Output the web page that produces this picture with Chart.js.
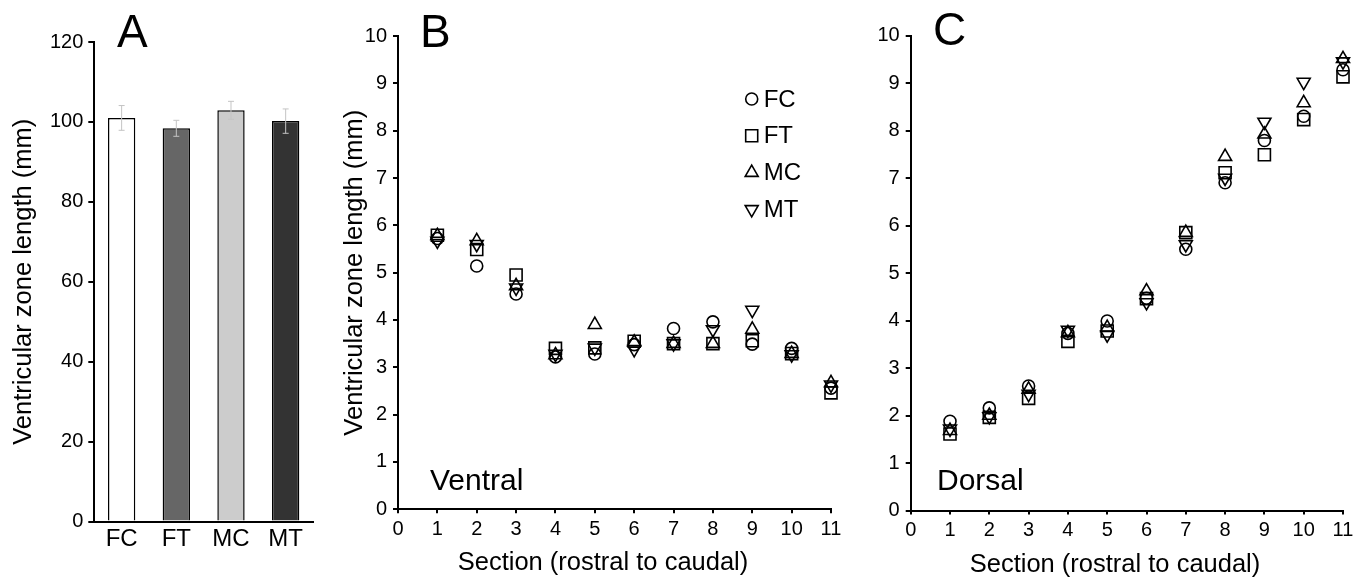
<!DOCTYPE html>
<html>
<head>
<meta charset="utf-8">
<title>Ventricular zone length</title>
<script src="https://cdn.jsdelivr.net/npm/chart.js@4.4.1/dist/chart.umd.min.js"></script>
<style>
    body { margin: 0; background: #fff; width: 1366px; height: 584px; overflow: hidden; position: relative; }
    canvas { position: absolute; top: 0; }
</style>
</head>
<body>
<canvas id="chartA" width="335" height="584" style="left:0px"></canvas>
<canvas id="chartB" width="515" height="584" style="left:335px"></canvas>
<canvas id="chartC" width="516" height="584" style="left:850px"></canvas>
<script>
    // Panel A: total length per group
    const groups = ['FC', 'FT', 'MC', 'MT'];
    const totalLength = [101.0, 98.4, 102.9, 100.2];
    const totalError = [3.1, 2.0, 2.25, 3.05];
    const barColors = ['#ffffff', '#666666', '#cccccc', '#333333'];
    const lengthTicksA = [0, 20, 40, 60, 80, 100, 120];

    // Panels B and C: per section
    const sections = [1, 2, 3, 4, 5, 6, 7, 8, 9, 10, 11];
    const sectionTicks = [0, 1, 2, 3, 4, 5, 6, 7, 8, 9, 10, 11];
    const lengthTicks = [0, 1, 2, 3, 4, 5, 6, 7, 8, 9, 10];

    const ventralFC = [5.72, 5.14, 4.55, 3.22, 3.28, 3.48, 3.82, 3.96, 3.49, 3.40, 2.56];
    const ventralFT = [5.79, 5.49, 4.95, 3.40, 3.41, 3.55, 3.50, 3.50, 3.56, 3.29, 2.46];
    const ventralMC = [5.78, 5.67, 4.72, 3.26, 3.90, 3.53, 3.50, 3.50, 3.80, 3.29, 2.67];
    const ventralMT = [5.67, 5.60, 4.68, 3.28, 3.41, 3.38, 3.50, 3.80, 4.21, 3.27, 2.63];

    const dorsalFC = [1.88, 2.16, 2.62, 3.73, 3.99, 4.47, 5.50, 6.90, 7.79, 8.30, 9.28];
    const dorsalFT = [1.61, 1.96, 2.36, 3.56, 3.78, 4.46, 5.85, 7.11, 7.49, 8.23, 9.13];
    const dorsalMC = [1.68, 2.00, 2.55, 3.74, 3.85, 4.62, 5.85, 7.45, 7.92, 8.58, 9.51];
    const dorsalMT = [1.72, 1.98, 2.45, 3.80, 3.70, 4.38, 5.60, 7.00, 8.18, 9.02, 9.45];

    const FONT = '"Liberation Sans", Arial, sans-serif';
    Chart.defaults.font.family = FONT;
    Chart.defaults.color = '#000';

    // fixed text (panel letters, region labels, x titles)
    function textPlugin(id, items) {
        return {
            id: id,
            afterDraw(chart) {
                const ctx = chart.ctx;
                ctx.save();
                ctx.fillStyle = '#000';
                items.forEach(t => {
                    ctx.textBaseline = t.baseline || 'alphabetic';
                    ctx.textAlign = t.align || 'left';
                    ctx.font = t.size + 'px ' + FONT;
                    ctx.fillText(t.text, t.x, t.y);
                });
                ctx.restore();
            }
        };
    }

    // error bars for panel A
    const errorBars = {
        id: 'errorBars',
        afterDatasetsDraw(chart) {
            const ctx = chart.ctx;
            const y = chart.scales.y;
            const meta = chart.getDatasetMeta(0);
            ctx.save();
            ctx.strokeStyle = '#c4c4c4';
            ctx.lineWidth = 1;
            meta.data.forEach((bar, i) => {
                const v = totalLength[i], e = totalError[i];
                const yt = y.getPixelForValue(v + e), yb = y.getPixelForValue(v - e);
                ctx.beginPath();
                ctx.moveTo(bar.x, yt); ctx.lineTo(bar.x, yb);
                ctx.moveTo(bar.x - 3, yt); ctx.lineTo(bar.x + 3, yt);
                ctx.moveTo(bar.x - 3, yb); ctx.lineTo(bar.x + 3, yb);
                ctx.stroke();
            });
            ctx.restore();
        }
    };

    // legend inside panel B
    function innerLegend(x, y, gap) {
        return {
            id: 'innerLegend',
            afterDatasetsDraw(chart) {
                const ctx = chart.ctx;
                ctx.save();
                chart.data.datasets.forEach((ds, i) => {
                    const yy = y + i * gap;
                    ctx.strokeStyle = '#000';
                    ctx.fillStyle = 'rgba(0,0,0,0)';
                    ctx.lineWidth = 1.6;
                    Chart.helpers.drawPoint(ctx, {
                        pointStyle: ds.pointStyle,
                        radius: ds.pointRadius,
                        rotation: ds.pointRotation || 0,
                        borderWidth: 1.6
                    }, x, yy);
                    ctx.fillStyle = '#000';
                    ctx.font = '24px ' + FONT;
                    ctx.textBaseline = 'middle';
                    ctx.fillText(ds.label, x + 12, yy + 1);
                });
                ctx.restore();
            }
        };
    }

    function axisStyle(extra) {
        return Object.assign({
            grid: { display: true, drawOnChartArea: false, color: '#000', lineWidth: 2, tickLength: 5 },
            border: { display: true, color: '#000', width: 2 }
        }, extra);
    }

    new Chart(document.getElementById('chartA'), {
        type: 'bar',
        data: {
            labels: groups,
            datasets: [{
                data: totalLength,
                backgroundColor: barColors,
                borderColor: '#000',
                borderWidth: 1.5,
                barPercentage: 0.5,
                categoryPercentage: 1
            }]
        },
        options: {
            responsive: false,
            animation: false,
            devicePixelRatio: 1,
            layout: { padding: { top: 42, right: 22, bottom: 0, left: 0 } },
            plugins: { legend: { display: false }, tooltip: { enabled: false } },
            scales: {
                x: axisStyle({
                    grid: { display: true, drawOnChartArea: false, drawTicks: false, color: '#000', lineWidth: 2 },
                    ticks: { font: { size: 24 }, padding: 3 },
                    afterFit: s => { s.height = 62.5; }
                }),
                y: axisStyle({
                    min: 0, max: 120,
                    afterBuildTicks: s => { s.ticks = lengthTicksA.map(v => ({ value: v })); },
                    grid: { display: true, drawOnChartArea: false, color: '#000', lineWidth: 2, tickLength: 6 },
                    ticks: { font: { size: 20 }, padding: 5 },
                    title: { display: true, text: 'Ventricular zone length (mm)', font: { size: 25.5 }, padding: { top: 9, bottom: 0 } },
                    afterFit: s => { s.width = 94.3; }
                })
            }
        },
        plugins: [errorBars, textPlugin('letterA', [{ text: 'A', size: 46, x: 117, y: 47 }])]
    });

    function scatterSets(fc, ft, mc, mt) {
        const pts = arr => sections.map((s, i) => ({ x: s, y: arr[i] }));
        const base = { backgroundColor: 'rgba(0,0,0,0)', borderColor: '#000', pointBorderWidth: 1.6, clip: false };
        return [
            Object.assign({ label: 'FC', data: pts(fc), pointStyle: 'circle', pointRadius: 6 }, base),
            Object.assign({ label: 'FT', data: pts(ft), pointStyle: 'rect', pointRadius: 8.5 }, base),
            Object.assign({ label: 'MC', data: pts(mc), pointStyle: 'triangle', pointRadius: 7.5 }, base),
            Object.assign({ label: 'MT', data: pts(mt), pointStyle: 'triangle', pointRadius: 7.5, pointRotation: 180 }, base)
        ];
    }

    function scatterOptions(yWidth, top, right, xHeight, yTitle) {
        return {
            responsive: false,
            animation: false,
            devicePixelRatio: 1,
            layout: { padding: { top: top, right: right, bottom: 0, left: 0 } },
            plugins: { legend: { display: false }, tooltip: { enabled: false } },
            scales: {
                x: axisStyle({
                    type: 'linear', min: 0, max: 11,
                    afterBuildTicks: s => { s.ticks = sectionTicks.map(v => ({ value: v })); },
                    grid: { display: true, drawOnChartArea: false, color: '#000', lineWidth: 2, tickLength: 4 },
                    ticks: { font: { size: 20 }, padding: 4 },
                    afterFit: s => { s.height = xHeight; }
                }),
                y: axisStyle({
                    min: 0, max: 10,
                    afterBuildTicks: s => { s.ticks = lengthTicks.map(v => ({ value: v })); },
                    grid: { display: true, drawOnChartArea: false, color: '#000', lineWidth: 2, tickLength: 5 },
                    ticks: { font: { size: 20 }, padding: 6 },
                    title: { display: !!yTitle, text: yTitle || '', font: { size: 25.5 }, padding: { top: 4.5, bottom: 0 } },
                    afterFit: s => { s.width = yWidth; }
                })
            }
        };
    }

    const xTitle = 'Section (rostral to caudal)';

    new Chart(document.getElementById('chartB'), {
        type: 'scatter',
        data: { datasets: scatterSets(ventralFC, ventralFT, ventralMC, ventralMT) },
        options: scatterOptions(63, 36, 19, 74.7, 'Ventricular zone length (mm)'),
        plugins: [
            innerLegend(416.7, 99, 36.8),
            textPlugin('labelsB', [
                { text: 'B', size: 46, x: 85, y: 47 },
                { text: 'Ventral', size: 30, x: 95, y: 490 },
                { text: xTitle, size: 25.5, x: 268, y: 563, align: 'center', baseline: 'middle' }
            ])
        ]
    });

    new Chart(document.getElementById('chartC'), {
        type: 'scatter',
        data: { datasets: scatterSets(dorsalFC, dorsalFT, dorsalMC, dorsalMT) },
        options: scatterOptions(60.7, 35.5, 23, 73.5, ''),
        plugins: [
            textPlugin('labelsC', [
                { text: 'C', size: 46, x: 83, y: 45 },
                { text: 'Dorsal', size: 30, x: 87, y: 490 },
                { text: xTitle, size: 25.5, x: 265, y: 565, align: 'center', baseline: 'middle' }
            ])
        ]
    });
</script>
</body>
</html>
